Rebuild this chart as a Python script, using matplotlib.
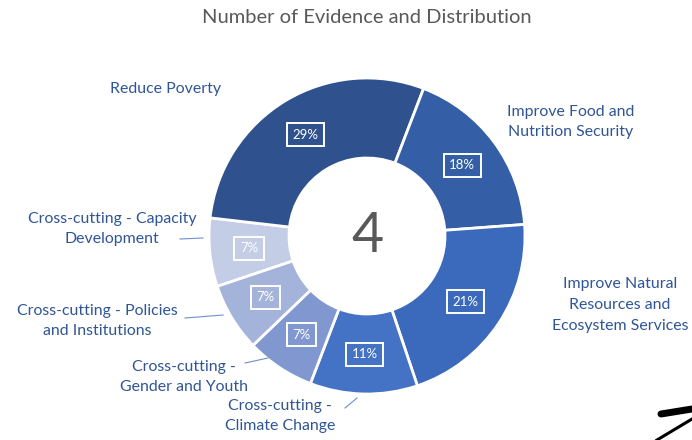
import matplotlib.pyplot as plt

categories = ["Cross-cutting - Capacity\nDevelopment", "Reduce Poverty",
              "Improve Food and\nNutrition Security",
              "Improve Natural\nResources and\nEcosystem Services",
              "Cross-cutting -\nClimate Change", "Cross-cutting -\nGender and Youth",
              "Cross-cutting - Policies\nand Institutions"]
values = [7, 29, 18, 21, 11, 7, 7]
colors = ["#c3cde6", "#2f528f", "#345ea5", "#3b69bb", "#4472c4", "#8097d0", "#a4b3da"]
total = "4"

plt.rcParams['font.family'] = ['Lato', 'DejaVu Sans']

fig = plt.figure(figsize=(6.92, 4.40), dpi=100)
ax = fig.add_axes([0, 0, 1, 1])

H = 440
cx, cy, R = 367, H - 236, 158

wedges, texts, autotexts = ax.pie(
    values, colors=colors, center=(cx, cy), radius=R,
    startangle=90 - 251.4, counterclock=False,
    autopct='%d%%', pctdistance=0.75,
    wedgeprops=dict(width=80, edgecolor='white', linewidth=2),
    textprops=dict(color='white', fontsize=9.5), frame=True)
ax.axis('off')
ax.set_xlim(0, 692)
ax.set_ylim(0, 440)
for t in autotexts:
    t.set_bbox(dict(boxstyle='square,pad=0.42', fc='none', ec='white', lw=1.4))

ax.text(cx, cy, total, ha='center', va='center', fontsize=40, color='#595959')

lab_color = '#2f5597'
lab_pos = [(112, 229), (166, 89), (571, 122), (620, 305), (280, 416), (184, 377), (97, 321)]
for name, (x, y) in zip(categories, lab_pos):
    ax.text(x, H - y, name, ha='center', va='center', fontsize=11.4,
            color=lab_color, linespacing=1.6)

# leader lines
leaders = [((180, 239), (203, 238)), ((185, 318), (223, 315)),
           ((245, 363), (268, 358)), ((345, 408), (357, 398))]
for (x0, y0), (x1, y1) in leaders:
    ax.plot([x0, x1], [H - y0, H - y1], color='#6d8fcc', lw=0.8)

# stray pen marks bottom-right
ax.plot([661, 692], [H - 414, H - 409], color='black', lw=5, solid_capstyle='round')
ax.plot([657, 692], [H - 440, H - 419], color='black', lw=2.2)

ax.text(367, H - 17, "Number of Evidence and Distribution", ha='center', va='center',
        fontsize=14.5, color='#595959')

fig.savefig("out.png", dpi=100)
